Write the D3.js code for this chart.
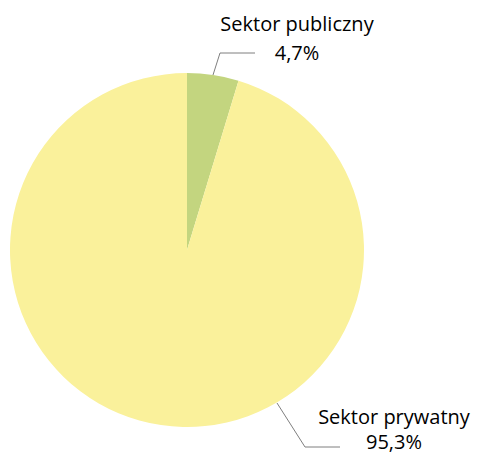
<!DOCTYPE html>
<html>
<head>
<meta charset="utf-8">
<script src="https://cdn.jsdelivr.net/npm/d3@7"></script>
<style>
body { margin: 0; background: #fff; }
text { font-family: "Open Sans", sans-serif; fill: #000; }
</style>
</head>
<body>
<div id="chart"></div>
<script>
var categories = ['Sektor publiczny', 'Sektor prywatny'];
var values = [4.7, 95.3];
var value_labels = ['4,7%', '95,3%'];
var colors = ['#c3d57f', '#faf19b'];

var width = 477, height = 454;
var cx = 187, cy = 250, radius = 177;

var svg = d3.select('#chart').append('svg')
    .attr('width', width)
    .attr('height', height);

var pie = d3.pie().sort(null).value(function(d){ return d; });
var arc = d3.arc().innerRadius(0).outerRadius(radius);

var g = svg.append('g').attr('transform', 'translate(' + cx + ',' + cy + ')');

g.selectAll('path')
    .data(pie(values))
    .enter()
    .append('path')
    .attr('d', arc)
    .attr('fill', function(d, i){ return colors[i]; });

// label placement (name line, value line) and leader lines
var label_pos = [
    {x: 297, y1: 31, y2: 60, line: [[213, 75], [220, 53], [255, 53]]},
    {x: 394, y1: 424, y2: 449, line: [[277, 403], [305, 447], [340, 447]]}
];

svg.selectAll('polyline')
    .data(label_pos)
    .enter()
    .append('polyline')
    .attr('points', function(d){ return d.line.map(function(p){ return p.join(','); }).join(' '); })
    .attr('fill', 'none')
    .attr('stroke', '#7f7f7f')
    .attr('stroke-width', 1);

svg.selectAll('text.name')
    .data(categories)
    .enter()
    .append('text')
    .attr('class', 'name')
    .attr('x', function(d, i){ return label_pos[i].x; })
    .attr('y', function(d, i){ return label_pos[i].y1; })
    .attr('text-anchor', 'middle')
    .attr('font-size', '20px')
    .text(function(d){ return d; });

svg.selectAll('text.value')
    .data(value_labels)
    .enter()
    .append('text')
    .attr('class', 'value')
    .attr('x', function(d, i){ return label_pos[i].x; })
    .attr('y', function(d, i){ return label_pos[i].y2; })
    .attr('text-anchor', 'middle')
    .attr('font-size', '20px')
    .text(function(d){ return d; });
</script>
</body>
</html>
